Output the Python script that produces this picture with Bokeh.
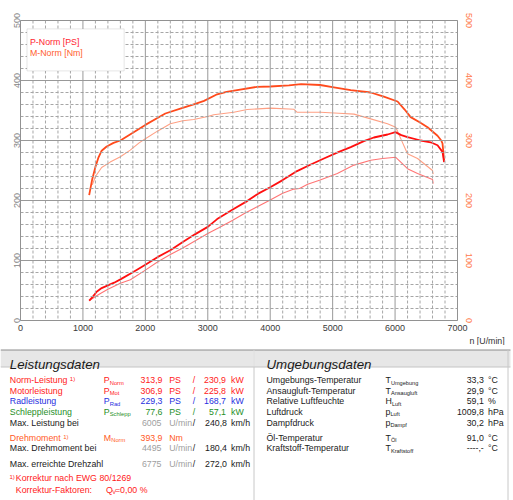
from bokeh.plotting import figure
from bokeh.models import Range1d, SingleIntervalTicker, LinearAxis, Label, BoxAnnotation, Title, Span
from bokeh.layouts import column
from bokeh.embed import file_html
from bokeh.resources import INLINE
from bokeh.core.properties import value

FONT = "Liberation Sans"

# ---------------- chart data ----------------
rpm_m_norm = [1100, 1150, 1200, 1250, 1300, 1380, 1490, 1600, 1800, 2000, 2200, 2320, 2560, 2800, 2940,
              3150, 3300, 3470, 3790, 4000, 4300, 4495, 4800, 5020, 5290, 5610, 5820, 6040, 6150, 6250,
              6400, 6520, 6680, 6740, 6760, 6785]
m_norm = [209, 236, 256, 272, 283, 290, 296, 300, 313, 326, 338, 345, 353, 361, 366,
          377, 381, 384, 389.5, 390, 392, 393.9, 392.5, 388.6, 384, 380, 373, 365, 352, 339,
          330, 322, 308, 300, 295, 267]

rpm_p_norm = [1100, 1150, 1220, 1300, 1400, 1500, 1600, 1800, 2000, 2200, 2400, 2600, 2800, 3000, 3150,
              3400, 3630, 3800, 4000, 4200, 4430, 4650, 4860, 5100, 5290, 5500, 5660, 5880, 6005, 6100,
              6200, 6410, 6570, 6680, 6760, 6785]
p_norm = [33, 38.6, 48, 54, 58.5, 63, 68.5, 80.5, 93, 106, 117, 131, 144, 156, 169,
          185, 199, 211, 222, 234, 249, 260, 270, 281, 289, 299, 305, 310, 313.9, 309,
          305.5, 300, 297, 292, 281, 264]

rpm_m_thin = [1150, 1200, 1300, 1437, 1600, 1758, 1900, 2000, 2200, 2400, 2600, 2774, 3000, 3095, 3416,
              3630, 4005, 4380, 4433, 4807, 5100, 5342, 5610, 5878, 6011, 6100, 6199, 6360, 6600, 6610]
m_thin = [226, 240, 255, 264, 273, 284, 296, 303, 316, 328, 333, 335, 340, 343, 347,
          351.6, 354, 352, 347, 347, 345.5, 344, 336, 328, 322, 301, 278, 270, 250, 244]

rpm_p_thin = [1100, 1200, 1280, 1400, 1600, 1760, 2000, 2200, 2400, 2600, 2800, 3000, 3200, 3400, 3600,
              3800, 4000, 4200, 4380, 4470, 4600, 4800, 5075, 5342, 5610, 5800, 6011, 6100, 6199, 6360,
              6600, 6610]
p_thin = [33, 40, 45, 52, 62, 68, 84, 98, 110, 121, 133, 145, 156, 167, 179,
          190, 201, 212, 219, 220, 227, 234, 245, 259, 267, 270, 272, 263, 253, 245,
          235, 228]

x_ticks = [0, 1000, 2000, 3000, 4000, 5000, 6000, 7000]
y_ticks = [0, 100, 200, 300, 400, 500]
x_minor = [v for v in range(200, 7000, 200) if v % 1000]
y_minor = [v for v in range(20, 500, 20) if v % 100]

legend_texts = ["P-Norm [PS]", "M-Norm [Nm]"]
x_axis_title = "n [U/min]"

# ---------------- table data ----------------
perf_labels = ["Norm-Leistung", "Motorleistung", "Radleistung", "Schleppleistung", "Max. Leistung bei",
               "Drehmoment", "Max. Drehmoment bei", "Max. erreichte Drehzahl"]
perf_sym = ["P", "P", "P", "P", "", "M", "", ""]
perf_sub = ["Norm", "Mot", "Rad", "Schlepp", "", "Norm", "", ""]
perf_val1 = ["313,9", "306,9", "229,3", "77,6", "6005", "393,9", "4495", "6775"]
perf_unit1 = ["PS", "PS", "PS", "PS", "U/min", "Nm", "U/min", "U/min"]
perf_val2 = ["230,9", "225,8", "168,7", "57,1", "240,8", "", "180,4", "272,0"]
perf_unit2 = ["kW", "kW", "kW", "kW", "km/h", "", "km/h", "km/h"]
perf_note = ["1)", "", "", "", "", "1)", "", ""]
footnote1 = "Korrektur nach EWG 80/1269"
footnote2 = "Korrektur-Faktoren:"
footnote2_val = "0,00 %"

env_labels = ["Umgebungs-Temperatur", "Ansaugluft-Temperatur", "Relative Luftfeuchte", "Luftdruck",
              "Dampfdruck", "Öl-Temperatur", "Kraftstoff-Temperatur"]
env_sym = ["T", "T", "H", "p", "p", "T", "T"]
env_sub = ["Umgebung", "Ansaugluft", "Luft", "Luft", "Dampf", "Öl", "Kraftstoff"]
env_val = ["33,3", "29,9", "59,1", "1009,8", "30,2", "91,0", "----,-"]
env_unit = ["°C", "°C", "%", "hPa", "hPa", "°C", "°C"]

# ---------------- styles ----------------
RED = "#ff1a1a"
BLUE = "#1f2fe0"
GREEN = "#1f8f1f"
ORANGE = "#ff5a26"
BLACK = "#1a1a1a"
GRAY = "#a0a0a0"
C_P_NORM = "#ff1010"
C_M_NORM = "#ff4a1c"
C_P_THIN = "#ff7474"
C_M_THIN = "#ffa084"

# ---------------- chart ----------------
p = figure(width=513, height=345, x_range=Range1d(0, 7000), y_range=Range1d(0, 500),
           output_backend="svg", toolbar_location=None,
           min_border_left=20, min_border_right=56, min_border_top=20, min_border_bottom=24)
p.frame_align = False
p.background_fill_color = "white"
p.border_fill_color = "white"
p.outline_line_color = "#8a8a8a"
p.grid.visible = False

xt = SingleIntervalTicker(interval=1000)
yt = SingleIntervalTicker(interval=100)
p.xaxis.ticker = xt
p.yaxis.ticker = yt

def style_axis(ax, color, standoff):
    ax.major_tick_line_color = None
    ax.minor_tick_line_color = None
    ax.major_tick_out = 0
    ax.major_tick_in = 0
    ax.minor_tick_out = 0
    ax.minor_tick_in = 0
    ax.axis_line_color = None
    ax.major_label_text_font = FONT
    ax.major_label_text_font_size = "9px"
    ax.major_label_text_color = color
    ax.major_label_standoff = standoff

style_axis(p.xaxis[0], "#3a3a3a", 4)
style_axis(p.yaxis[0], "#858585", 1)
p.yaxis.major_label_orientation = "vertical"

ry = LinearAxis(ticker=yt)
style_axis(ry, "#ff7a4a", 8)
ry.major_label_orientation = "vertical"
p.add_layout(ry, "right")

p.line(rpm_m_thin, m_thin, line_color=C_M_THIN, line_width=1.1)
p.line(rpm_p_thin, p_thin, line_color=C_P_THIN, line_width=1.1)
p.line(rpm_m_norm, m_norm, line_color=C_M_NORM, line_width=1.8, line_join="round")
p.line(rpm_p_norm, p_norm, line_color=C_P_NORM, line_width=1.8, line_join="round")

# grid lines at the tick positions
for v in x_minor:
    p.add_layout(Span(location=v, dimension="height", line_color="#a6a6a6", line_width=1, line_dash="3 2"))
for v in y_minor:
    p.add_layout(Span(location=v, dimension="width", line_color="#a6a6a6", line_width=1, line_dash="3 2"))
for v in x_ticks:
    p.add_layout(Span(location=v, dimension="height", line_color="#999999", line_width=1))
for v in y_ticks:
    p.add_layout(Span(location=v, dimension="width", line_color="#999999", line_width=1))

# legend box
p.add_layout(BoxAnnotation(left=104, right=1660, bottom=416, top=486, fill_color="white", fill_alpha=1,
                           line_color="#a8a8a8", line_width=1, level="annotation"))
p.add_layout(Label(x=152, y=463.5, text=legend_texts[0], text_color="#ff2430", text_font=FONT,
                   text_font_size="8.8px", text_baseline="alphabetic"))
p.add_layout(Label(x=152, y=446, text=legend_texts[1], text_color="#ff6030", text_font=FONT,
                   text_font_size="8.8px", text_baseline="alphabetic"))

xt_title = Title(text=x_axis_title, align="left", offset=449, standoff=0,
                 text_color="#333333", text_font=FONT, text_font_size="8.8px", text_font_style="normal")
p.add_layout(xt_title, "below")

# ---------------- tables ----------------
t = figure(width=513, height=155, x_range=Range1d(0, 513), y_range=Range1d(500, 345),
           output_backend="svg", toolbar_location=None, min_border=0,
           x_axis_location=None, y_axis_location=None)
t.frame_align = False
t.outline_line_color = None
t.grid.visible = False
t.background_fill_color = "white"
t.border_fill_color = "white"

t.quad(left=[0, 254.5], right=[252.5, 510], top=[349.5, 349.5], bottom=[366.5, 366.5],
       fill_color="#e7e7e7", line_color=None)
t.segment(x0=[0, 0], y0=[349.5, 366.5], x1=[510, 510], y1=[349.5, 366.5],
          line_color=["#8c8c8c", "#c4c4c4"], line_width=1)
t.segment(x0=[253.5, 507.5], y0=[349.5, 349.5], x1=[253.5, 507.5], y1=[500, 500],
          line_color="#c8c8c8", line_width=1)

def txt(xs, ys, texts, color, size="8.8px", align="left", style="normal"):
    t.text(x=xs, y=ys, text=texts, text_color=color, text_font=value(FONT), text_font_size=size,
           text_align=align, text_baseline="alphabetic", text_font_style=style)

txt([9.3, 266], [363.5, 363.5], ["Leistungsdaten", "Umgebungsdaten"], BLACK, size="13.3px", style="italic")

perf_y = [379.6, 390.2, 400.8, 411.4, 422.0, 437.3, 447.9, 463.9]
perf_col = [RED, RED, BLUE, GREEN, BLACK, ORANGE, BLACK, BLACK]
sym_w = {"P": 5.9, "M": 7.4, "T": 5.4, "H": 6.4, "p": 4.9}
note_x = [69.3, 0, 0, 0, 0, 62.7, 0, 0]

for i in range(len(perf_labels)):
    y = perf_y[i]
    c = perf_col[i]
    is_rpm = perf_unit1[i] == "U/min"
    txt([9.3], [y], [perf_labels[i]], c)
    if perf_note[i]:
        txt([note_x[i]], [y - 1], [perf_note[i]], c, size="6px")
    if perf_sym[i]:
        txt([103.3], [y], [perf_sym[i]], c)
        txt([103.3 + sym_w[perf_sym[i]]], [y + 2.5], [perf_sub[i]], c, size="5.8px")
    vc = GRAY if is_rpm else c
    txt([161 if is_rpm else 162], [y], [perf_val1[i]], vc, align="right")
    txt([168.7], [y], [perf_unit1[i]], vc)
    if perf_val2[i]:
        c2 = BLACK if is_rpm else c
        txt([192.3], [y], ["/"], c2)
        txt([226.5 if is_rpm else 225.5], [y], [perf_val2[i]], c2, align="right")
        txt([230.5], [y], [perf_unit2[i]], c2)

txt([9], [476.5], ["1)"], RED, size="6px")
txt([15.3], [477.7], [footnote1], RED)
txt([15.3], [489.0], [footnote2], RED)
txt([105.5], [489.0], ["Q"], RED)
txt([111.8], [491.4], ["V"], RED, size="5.6px")
txt([114.6], [489.0], ["="], RED)
txt([147], [489.0], [footnote2_val], RED, align="right")

env_y = [379.6, 390.2, 400.8, 411.4, 422.0, 437.3, 447.9]
for i in range(len(env_labels)):
    y = env_y[i]
    txt([266], [y], [env_labels[i]], BLACK)
    txt([385], [y], [env_sym[i]], BLACK)
    txt([385 + sym_w[env_sym[i]]], [y + 2.5], [env_sub[i]], BLACK, size="5.6px")
    txt([483.3], [y], [env_val[i]], BLACK, align="right")
    txt([487.5], [y], [env_unit[i]], BLACK)

layout = column(p, t)
open("out.html", "w").write(file_html(layout, INLINE))
